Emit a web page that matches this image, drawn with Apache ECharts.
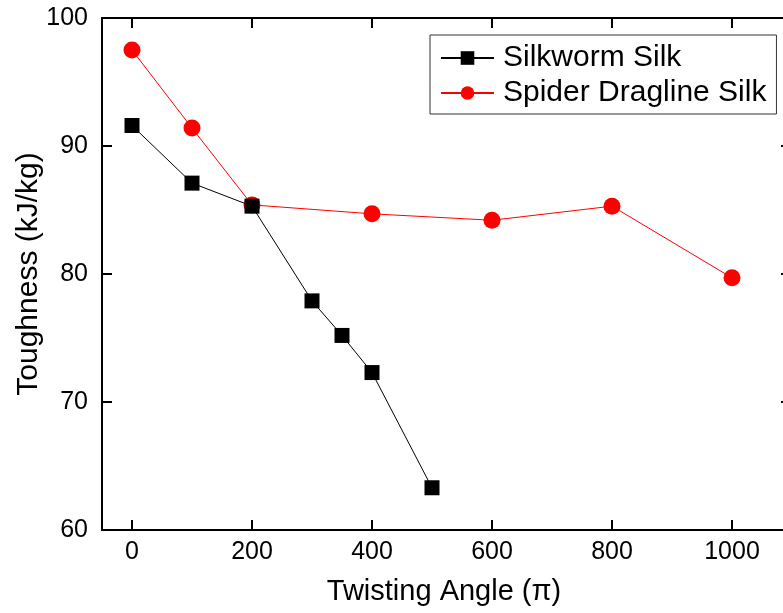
<!DOCTYPE html>
<html>
<head>
<meta charset="utf-8">
<script src="https://cdn.jsdelivr.net/npm/echarts@6/dist/echarts.min.js"></script>
<style>
html,body{margin:0;padding:0;background:#fff;}
#c{width:783px;height:613px;}
</style>
</head>
<body>
<div id="c"></div>
<script>
const silkwormX = [0, 100, 200, 300, 350, 400, 500];
const silkwormY = [91.6, 87.1, 85.3, 77.9, 75.2, 72.3, 63.3];
const spiderX = [0, 100, 200, 400, 600, 800, 1000];
const spiderY = [97.5, 91.4, 85.4, 84.7, 84.2, 85.3, 79.7];
const xTicks = [0, 200, 400, 600, 800, 1000];
const yTicks = [60, 70, 80, 90, 100];
const seriesNames = ['Silkworm Silk', 'Spider Dragline Silk'];

const font = 'Liberation Sans, Arial, sans-serif';
const chart = echarts.init(document.getElementById('c'), null, {renderer: 'canvas'});
const tickStyle = {show: true, inside: true, length: 10, lineStyle: {color: '#000', width: 2}};
const lineStyle = {show: true, onZero: false, lineStyle: {color: '#000', width: 2}};
chart.setOption({
  animation: false,
  backgroundColor: '#fff',
  grid: {left: 102, right: -3, top: 18, bottom: 83, containLabel: false, outerBoundsMode: 'none'},
  legend: {
    orient: 'vertical', left: 430, top: 35,
    width: 345,
    borderColor: '#333', borderWidth: 1,
    padding: [7, 10, 5, 10],
    itemWidth: 53, itemHeight: 17, itemGap: 3,
    textStyle: {fontFamily: font, fontSize: 30, color: '#000', padding: [0, 0, 0, 4], lineHeight: 32},
    data: seriesNames
  },
  xAxis: [
    {
      type: 'value', min: -50, max: 1090,
      position: 'bottom',
      axisLine: lineStyle, splitLine: {show: false},
      name: 'Twisting Angle (π)', nameLocation: 'middle', nameGap: 47,
      nameTextStyle: {fontFamily: font, fontSize: 29, color: '#000'},
      axisLabel: {fontFamily: font, fontSize: 25, color: '#000', margin: 10, customValues: xTicks,
        formatter: v => String(v)},
      axisTick: Object.assign({}, tickStyle, {customValues: xTicks})
    },
    {
      type: 'value', min: -50, max: 1090,
      position: 'top',
      axisLine: lineStyle, splitLine: {show: false},
      axisLabel: {show: false, customValues: xTicks},
      axisTick: Object.assign({}, tickStyle, {customValues: xTicks})
    }
  ],
  yAxis: [
    {
      type: 'value', min: 60, max: 100, interval: 10,
      position: 'left',
      axisLine: lineStyle, splitLine: {show: false}, axisTick: tickStyle,
      name: 'Toughness (kJ/kg)', nameLocation: 'middle', nameGap: 58, nameMoveOverlap: false,
      nameTextStyle: {fontFamily: font, fontSize: 30, color: '#000'},
      axisLabel: {fontFamily: font, fontSize: 25, color: '#000', margin: 14}
    },
    {
      type: 'value', min: 60, max: 100, interval: 10,
      position: 'right', offset: 5,
      axisLine: lineStyle, splitLine: {show: false}, axisTick: tickStyle,
      axisLabel: {show: false}
    }
  ],
  series: [
    {
      name: seriesNames[0], type: 'line',
      data: silkwormX.map((x, i) => [x, silkwormY[i]]),
      symbol: 'rect', symbolSize: 15,
      lineStyle: {color: '#000', width: 1},
      itemStyle: {color: '#000'},
      z: 3
    },
    {
      name: seriesNames[1], type: 'line',
      data: spiderX.map((x, i) => [x, spiderY[i]]),
      symbol: 'circle', symbolSize: 17,
      lineStyle: {color: '#ff0000', width: 1},
      itemStyle: {color: '#ff0000'},
      z: 2
    }
  ]
});
</script>
</body>
</html>
